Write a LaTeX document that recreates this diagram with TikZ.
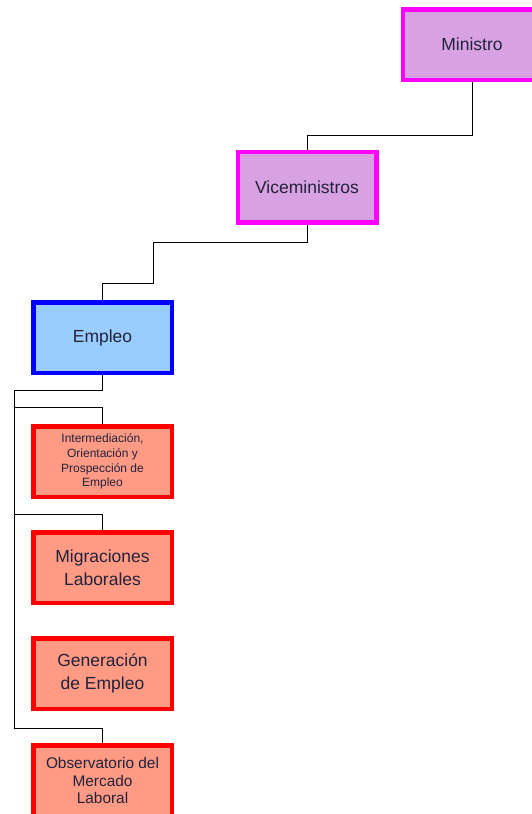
\documentclass[tikz,border=0pt]{standalone}
\usepackage{fontspec}
\setmainfont{Liberation Sans}
\definecolor{magb}{HTML}{FF00FF}
\definecolor{magf}{HTML}{D8A2E2}
\definecolor{blueb}{HTML}{0000FF}
\definecolor{bluef}{HTML}{99CCFF}
\definecolor{redb}{HTML}{FF0000}
\definecolor{redf}{HTML}{FF9A85}
\definecolor{txt}{HTML}{22223A}
\begin{document}
\begin{tikzpicture}[x=1pt,y=-1pt,
  box/.style={draw, line width=4.5pt, minimum width=138.5pt, minimum height=70.5pt,
    inner sep=2pt, align=center, text=txt, font=\fontsize{17.5}{22.5}\selectfont},
  magbox/.style={box, draw=magb, fill=magf},
  bluebox/.style={box, draw=blueb, fill=bluef},
  redbox/.style={box, draw=redb, fill=redf},
  link/.style={draw=black, line width=1pt}]
\useasboundingbox (0,0) rectangle (532,814);
\clip (0,0) rectangle (532,814);
\fill[white] (0,0) rectangle (532,814);
\node[magbox] (m) at (472,44.5) {Ministro};
\node[magbox] (v) at (307,187) {Viceministros};
\node[bluebox] (e) at (102.5,337.5) {Empleo};
\node[redbox, font=\fontsize{12}{14.8}\selectfont] (i) at (102.5,461.5) {Intermediación,\\Orientación y\\Prospección de\\Empleo};
\node[redbox] (mg) at (102.5,567.5) {Migraciones\\Laborales};
\node[redbox] (g) at (102.5,673.5) {Generación\\de Empleo};
\node[redbox, font=\fontsize{15.4}{17.5}\selectfont] (o) at (102.5,780.5) {Observatorio del\\Mercado\\Laboral};
\coordinate (b1) at (14,407);
\coordinate (b2) at (14,514);
\draw[link] (m.south) -- ++(0,53) -| (v.north);
\draw[link] (v.south) -- ++(0,18) -| (153,283) -| (e.north);
\draw[link] (e.south) -- ++(0,15) -| (14,728) -| (o.north);
\draw[link] (b1) -| (i.north);
\draw[link] (b2) -| (mg.north);
\end{tikzpicture}
\end{document}
